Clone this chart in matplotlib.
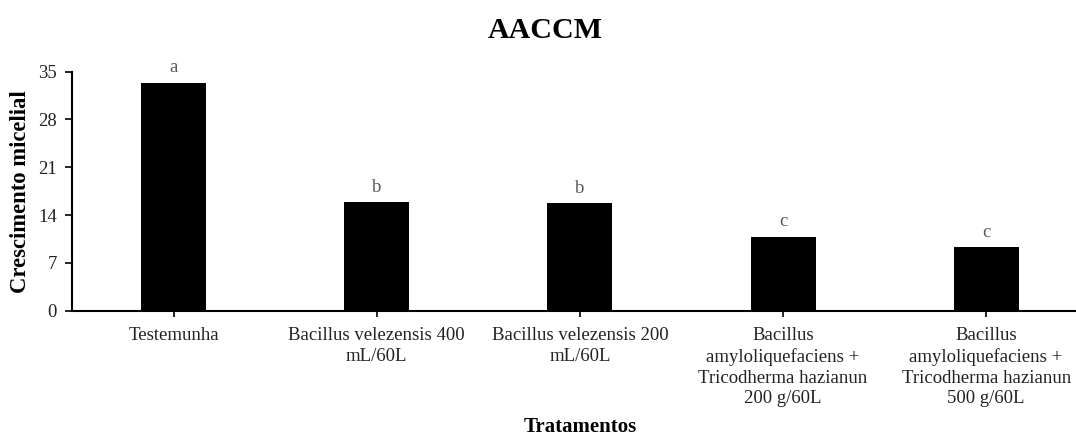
import matplotlib.pyplot as plt

# data
tratamentos = [
    "Testemunha",
    "Bacillus velezensis 400\nmL/60L",
    "Bacillus velezensis 200\nmL/60L",
    "Bacillus\namyloliquefaciens +\nTricodherma hazianun\n200 g/60L",
    "Bacillus\namyloliquefaciens +\nTricodherma hazianun\n500 g/60L",
]
crescimento = [33.4, 15.9, 15.75, 10.85, 9.35]
letras = ["a", "b", "b", "c", "c"]
y_ticks = [0, 7, 14, 21, 28, 35]

plt.rcParams["font.family"] = ["Liberation Serif", "DejaVu Serif"]

fig = plt.figure(figsize=(10.76, 4.37), dpi=100)
ax = fig.add_axes([0.0669, 0.289, 0.944, 0.547])

x = range(len(tratamentos))
ax.bar(x, crescimento, width=0.32, color="black")

# letters of the mean comparison test above each bar
for xi, val, let in zip(x, crescimento, letras):
    ax.text(xi, val + 0.9, let, ha="center", va="bottom",
            fontsize=13.5, color="#595959")

ax.set_xlim(-0.5, len(tratamentos) - 0.5)
ax.set_ylim(0, 35)
ax.set_yticks(y_ticks)
ax.set_xticks(list(x))
ax.set_xticklabels(tratamentos, fontsize=13.5, color="#222222", linespacing=1.28)
ax.tick_params(axis="y", labelsize=13.5, labelcolor="#222222", length=5, width=1.2, pad=6)
ax.tick_params(axis="x", length=4, width=1.2, pad=8)

for side in ["top", "right"]:
    ax.spines[side].set_visible(False)
for side in ["left", "bottom"]:
    ax.spines[side].set_linewidth(1.5)

ax.set_ylabel("Crescimento micelial", fontsize=16.3, fontweight="bold")
ax.yaxis.set_label_coords(-0.040, 0.5)
ax.set_xlabel("Tratamentos", fontsize=15, fontweight="bold")
ax.xaxis.set_label_coords(0.5, -0.445)

fig.text(0.507, 0.931, "AACCM", ha="center", va="center",
         fontsize=21.6, fontweight="bold")

fig.savefig("out.png", dpi=100)
